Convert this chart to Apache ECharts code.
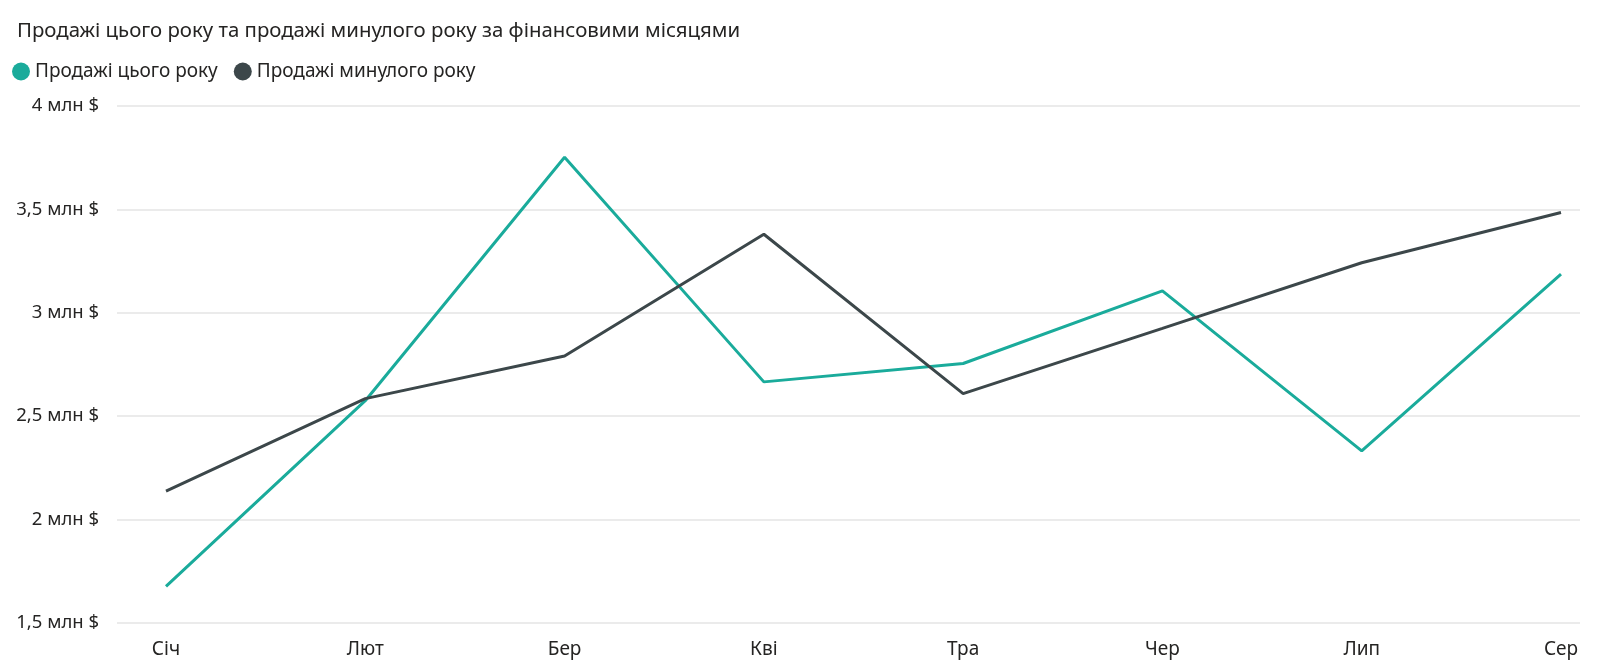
<!DOCTYPE html>
<html>
<head>
<meta charset="utf-8">
<script src="https://cdn.jsdelivr.net/npm/echarts@6/dist/echarts.min.js"></script>
<style>
html,body{margin:0;padding:0;background:#fff;}
#c{width:1600px;height:669px;}
</style>
</head>
<body>
<div id="c"></div>
<script>
const titleText = 'Продажі цього року та продажі минулого року за фінансовими місяцями';
const categories = ['Січ','Лют','Бер','Кві','Тра','Чер','Лип','Сер'];
const seriesNames = ['Продажі цього року','Продажі минулого року'];
const thisYear = [1.677, 2.575, 3.752, 2.666, 2.755, 3.106, 2.332, 3.187];
const lastYear = [2.138, 2.585, 2.791, 3.380, 2.609, 2.925, 3.242, 3.485];
const yTicks = [1.5, 2, 2.5, 3, 3.5, 4];

const FONT = '"Segoe UI", "Noto Sans", "Open Sans", sans-serif';
const textColor = '#252423';
const colors = ['#1AAB9B', '#3C474A'];

const chart = echarts.init(document.getElementById('c'));
const fmt = v => String(v).replace('.', ',') + ' млн $';

chart.setOption({
  animation: false,
  title: {
    text: titleText,
    left: 12, top: 16,
    textStyle: { fontFamily: FONT, fontSize: 20.4, fontWeight: 'normal', color: textColor }
  },
  legend: {
    data: seriesNames,
    left: 7, top: 57,
    icon: 'circle',
    itemWidth: 18, itemHeight: 18, itemGap: 16,
    textStyle: { fontFamily: FONT, fontSize: 19, color: textColor, padding: [0,0,0,0] }
  },
  color: colors,
  grid: [
    { left: 117, right: 20, top: 106, bottom: 46 },
    { left: 166, right: 39, top: 106, bottom: 46 }
  ],
  xAxis: [
    { gridIndex: 0, type: 'value', min: 0, max: 1, show: false },
    {
      gridIndex: 1, type: 'category', data: categories, boundaryGap: false,
      axisLine: { show: false }, axisTick: { show: false },
      axisLabel: { fontFamily: FONT, fontSize: 19, color: textColor, margin: 17 }
    }
  ],
  yAxis: [
    {
      gridIndex: 0, type: 'value', min: yTicks[0], max: yTicks[yTicks.length-1], interval: 0.5,
      axisLine: { show: false }, axisTick: { show: false },
      axisLabel: { fontFamily: FONT, fontSize: 18.5, color: textColor, margin: 18, formatter: fmt },
      splitLine: { lineStyle: { color: '#E5E5E5', width: 1.5 } }
    },
    {
      gridIndex: 1, type: 'value', min: yTicks[0], max: yTicks[yTicks.length-1], interval: 0.5,
      show: false, splitLine: { show: false }
    }
  ],
  series: [
    {
      name: seriesNames[0], type: 'line', xAxisIndex: 1, yAxisIndex: 1,
      data: thisYear, symbol: 'none', lineStyle: { width: 3, color: colors[0] }
    },
    {
      name: seriesNames[1], type: 'line', xAxisIndex: 1, yAxisIndex: 1,
      data: lastYear, symbol: 'none', lineStyle: { width: 3, color: colors[1] }
    }
  ]
});
</script>
</body>
</html>
